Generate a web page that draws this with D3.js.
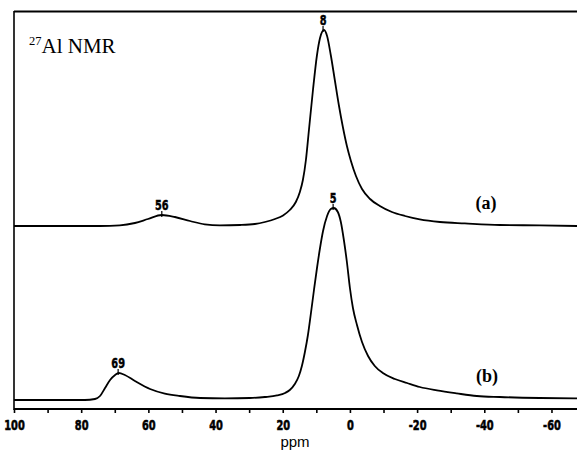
<!DOCTYPE html>
<html><head><meta charset="utf-8">
<script src="https://cdn.jsdelivr.net/npm/d3@7"></script>
<style>
html,body{margin:0;padding:0;background:#fff;}
svg{display:block;}
</style></head>
<body>
<svg id="chart" width="577" height="467"></svg>
<script>
// ---- data ----
// spectrum (a): chemical shift (ppm) and intensity (arbitrary units)
const specA_ppm = [100, 86, 74.4, 68.5, 64, 60.1, 56, 52.1, 47.6, 43.2, 38.7, 32.7, 28.3, 25.3, 22.3, 19.9, 17.9, 16.1, 14.9, 14.0, 13.1, 12.2, 11.0, 9.8, 8.9, 7.7, 6.8, 5.7, 4.5, 3.3, 2.1, 0.9, -0.3, -1.8, -3.6, -6, -8.9, -12.5, -16.4, -20.8, -26.8, -34.2, -44.6, -56.5, -67.6];
const specA_int = [0, 0, 0, 0.3, 1.5, 3.5, 5.5, 4.5, 2.5, 0.8, 0.3, 0.5, 1, 2, 3.5, 5.3, 8, 12, 17, 23, 33, 48, 68, 85.5, 94, 98, 95, 85.5, 73, 60.5, 49.5, 40, 32.5, 25, 18.5, 13.5, 10, 7, 5, 3.3, 2, 1.3, 0.5, 0.3, 0];
// spectrum (b)
const specB_ppm = [100, 86, 78.9, 75.9, 74.4, 72.9, 71.4, 69.9, 68.8, 67, 64, 59.5, 55.1, 50.6, 44.6, 37.2, 29.8, 25.3, 21.7, 19.3, 17.9, 16.4, 15.2, 14.3, 13.4, 12.5, 11.6, 10.7, 9.8, 8.9, 8.0, 6.8, 5.7, 4.8, 3.6, 2.7, 1.8, 0.9, 0, -0.9, -2.1, -3.6, -5.4, -7.4, -9.8, -13.4, -17, -20.8, -25.9, -31.8, -37.8, -44.6, -56.5, -67.6];
const specB_int = [0, 0, 0, 0.5, 2, 6, 10, 12.5, 13.5, 12.5, 9.5, 5.5, 3.2, 2, 1, 0.8, 1, 1.5, 2.3, 3.5, 5, 8, 12, 17, 24, 32.5, 43.5, 55, 66, 76, 84.5, 92, 95.5, 96, 94, 89, 80, 69, 56, 46, 37.5, 29, 22, 17, 13.5, 10.5, 8.5, 6.5, 4.8, 3.3, 2, 1.5, 1, 0.8];
const offsetA = 87;             // vertical stacking offset of spectrum (a)
const peaksA = [{ppm: 56, label: "56"}, {ppm: 8, label: "8"}];
const peaksB = [{ppm: 69, label: "69"}, {ppm: 5, label: "5"}];
const tickValues = [100, 90, 80, 70, 60, 50, 40, 30, 20, 10, 0, -10, -20, -30, -40, -50, -60];
const tickLabels = ["100", "", "80", "", "60", "", "40", "", "20", "", "0", "", "-20", "", "-40", "", "-60"];
const xTitle = "ppm";

// ---- drawing ----
const svg = d3.select("#chart");
const x = d3.scaleLinear().domain([100, -67.6]).range([14, 577]);
const y = d3.scaleLinear().domain([0, 100]).range([400, 200]);
const condensed = "'DejaVu Sans','Liberation Sans',sans-serif";

// frame (left + top)
svg.append("line").attr("x1", 14).attr("x2", 14).attr("y1", 11).attr("y2", 410)
  .attr("stroke", "#000").attr("stroke-width", 1.6);
svg.append("line").attr("x1", 14).attr("x2", 577).attr("y1", 11.5).attr("y2", 11.5)
  .attr("stroke", "#000").attr("stroke-width", 1.8);

// bottom axis
const axis = d3.axisBottom(x).tickValues(tickValues)
  .tickFormat((d, i) => tickLabels[i]).tickSize(4).tickPadding(7).tickSizeOuter(0);
const gx = svg.append("g").attr("transform", "translate(0,409)").call(axis);
gx.select(".domain").attr("stroke", "#000").attr("stroke-width", 2.2).attr("d", "M14,0H577");
gx.selectAll(".tick line").attr("stroke", "#000").attr("stroke-width", 1.6);
gx.selectAll(".tick text").attr("fill", "#000").attr("transform", "scale(0.68,1)")
  .attr("stroke", "#000").attr("stroke-width", 0.6)
  .style("font-family", condensed).style("font-weight", "bold").style("font-size", "14.5px");

svg.append("text").attr("x", 295).attr("y", 447).attr("text-anchor", "middle")
  .style("font-family", "'Liberation Sans',Arial,sans-serif").style("font-size", "15px")
  .text(xTitle);

// spectra
const line = d3.line().curve(d3.curveMonotoneX);
const ptsA = specA_ppm.map((p, i) => [x(p), y(specA_int[i] + offsetA)]).reverse();
const ptsB = specB_ppm.map((p, i) => [x(p), y(specB_int[i])]).reverse();
svg.append("path").attr("d", line(ptsA)).attr("fill", "none").attr("stroke", "#000").attr("stroke-width", 1.8);
svg.append("path").attr("d", line(ptsB)).attr("fill", "none").attr("stroke", "#000").attr("stroke-width", 1.8);

// peak labels
function peakLabels(peaks, ppmArr, intArr, off) {
  peaks.forEach(pk => {
    let bi = 0, bd = 1e9;
    ppmArr.forEach((p, i) => { const d = Math.abs(p - pk.ppm); if (d < bd) { bd = d; bi = i; } });
    const px = x(pk.ppm), py = y(intArr[bi] + off);
    svg.append("line").attr("x1", px).attr("x2", px).attr("y1", py - 4).attr("y2", py + 2)
      .attr("stroke", "#000").attr("stroke-width", 1.2);
    svg.append("g").attr("transform", `translate(${px},${py - 5})`)
      .append("text").attr("text-anchor", "middle").attr("transform", "scale(0.7,1)")
      .attr("stroke", "#000").attr("stroke-width", 0.5)
      .style("font-family", condensed).style("font-weight", "bold").style("font-size", "14px")
      .text(pk.label);
  });
}
peakLabels(peaksA, specA_ppm, specA_int, offsetA);
peakLabels(peaksB, specB_ppm, specB_int, 0);

// series labels
const serif = "'Liberation Serif','Times New Roman',serif";
svg.append("text").attr("x", 486).attr("y", 209).attr("text-anchor", "middle")
  .style("font-family", serif).style("font-weight", "bold").style("font-size", "18px").text("(a)");
svg.append("text").attr("x", 487).attr("y", 382).attr("text-anchor", "middle")
  .style("font-family", serif).style("font-weight", "bold").style("font-size", "18px").text("(b)");

// title 27Al NMR
const t = svg.append("text").attr("x", 29).attr("y", 53)
  .style("font-family", serif).style("font-size", "21px");
t.append("tspan").attr("dy", "-8").style("font-size", "12.5px").text("27");
t.append("tspan").attr("dy", "8").text("Al NMR");
</script>
</body></html>
